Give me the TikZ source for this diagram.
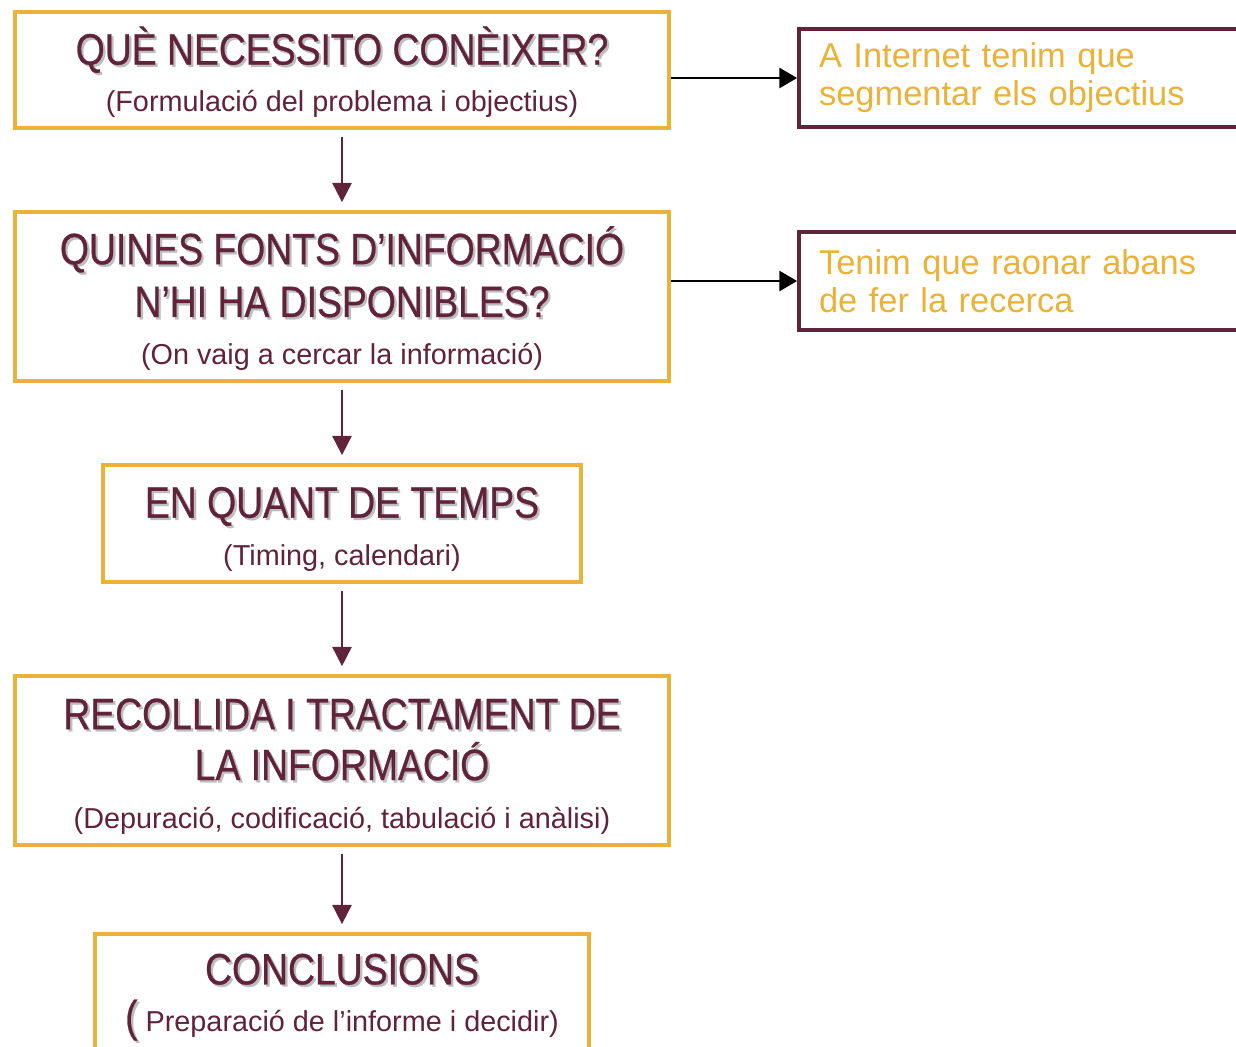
\documentclass[tikz,border=0pt]{standalone}
\usepackage{fontspec}
\setmainfont{Liberation Sans}
\newfontfamily\estretfont[FakeStretch=0.85,FakeBold=0.6]{Liberation Sans}
\usetikzlibrary{arrows.meta}
\definecolor{daurat}{RGB}{235,178,58}
\definecolor{granat}{RGB}{96,35,58}
\definecolor{ombra}{RGB}{190,190,190}
\newcommand{\ombrejat}[1]{\makebox[0pt][l]{\hspace{1.3pt}\raisebox{-1.3pt}{\color{ombra}#1}}#1}
\newcommand{\titol}{\estretfont\fontsize{25}{29}\selectfont\rule{0pt}{24pt}}
\newcommand{\subtitol}{\normalfont\fontsize{16.4}{29}\selectfont}

\begin{document}
\begin{tikzpicture}[x=0.02cm,y=-0.02cm,
  caixa/.style={draw=daurat,line width=2.27pt,text=granat,align=center,inner sep=0pt,font=\fontsize{25}{29}\selectfont},
  nota/.style={draw=granat,line width=2.27pt,text=daurat,align=left,text width=8.8cm,inner xsep=0.4cm,minimum height=1.96cm,font=\fontsize{19.6}{21.6}\selectfont},
  baixa/.style={draw=granat,line width=1.1pt,-{Triangle[width=11pt,length=11pt]},shorten <=4pt,shorten >=4.5pt},
  dreta/.style={draw=black,line width=0.85pt,-{Triangle[width=11.5pt,length=10pt]}}]
  \path[use as bounding box,clip] (0,0) rectangle (1236,1046);
  \fill[white] (0,0) rectangle (1236,1046);
  % passos
  \node[caixa,minimum width=13.08cm,minimum height=2.32cm] (pas1) at (342,70) {\titol\ombrejat{QUÈ NECESSITO CONÈIXER?}\\[-2.2pt] \subtitol(Formulació del problema i objectius)};
  \node[caixa,minimum width=13.08cm,minimum height=3.38cm] (pas2) at (342,296.5) {\titol\ombrejat{QUINES FONTS D’INFORMACIÓ}\\[-1pt] \titol\ombrejat{N’HI HA DISPONIBLES?}\\[-1.7pt] \subtitol(On vaig a cercar la informació)};
  \node[caixa,minimum width=9.56cm,minimum height=2.34cm] (pas3) at (342,523.5) {\titol\ombrejat{EN QUANT DE TEMPS}\\[-1.7pt] \subtitol(Timing, calendari)};
  \node[caixa,minimum width=13.08cm,minimum height=3.38cm] (pas4) at (342,760.5) {\titol\ombrejat{RECOLLIDA I TRACTAMENT DE}\\ \titol\ombrejat{LA INFORMACIÓ}\\[-1.7pt] \subtitol(Depuració, codificació, tabulació i anàlisi)};
  \node[caixa,minimum width=9.88cm,minimum height=2.8cm,anchor=north] (pas5) at (342,932) {};
  \node[text=granat,align=center,anchor=north,font=\fontsize{25}{29}\selectfont] (text5) at (342,936) {\titol\ombrejat{CONCLUSIONS}\\[-2.2pt] \titol\ombrejat{(}\subtitol{} Preparació de l’informe i decidir)};
  % notes
  \node[nota] (nota1) at (1039,78) {A Internet tenim que\\segmentar els objectius};
  \node[nota] (nota2) at (1039,281) {Tenim que raonar abans\\de fer la recerca};
  % fletxes
  \draw[baixa] (pas1) -- (pas2); \draw[baixa] (pas2) -- (pas3);
  \draw[baixa] (pas3) -- (pas4); \draw[baixa] (pas4) -- (pas5);
  \draw[dreta] (nota1.west -| pas1.east) -- (nota1.west);
  \draw[dreta] (nota2.west -| pas2.east) -- (nota2.west);
\end{tikzpicture}
\end{document}
